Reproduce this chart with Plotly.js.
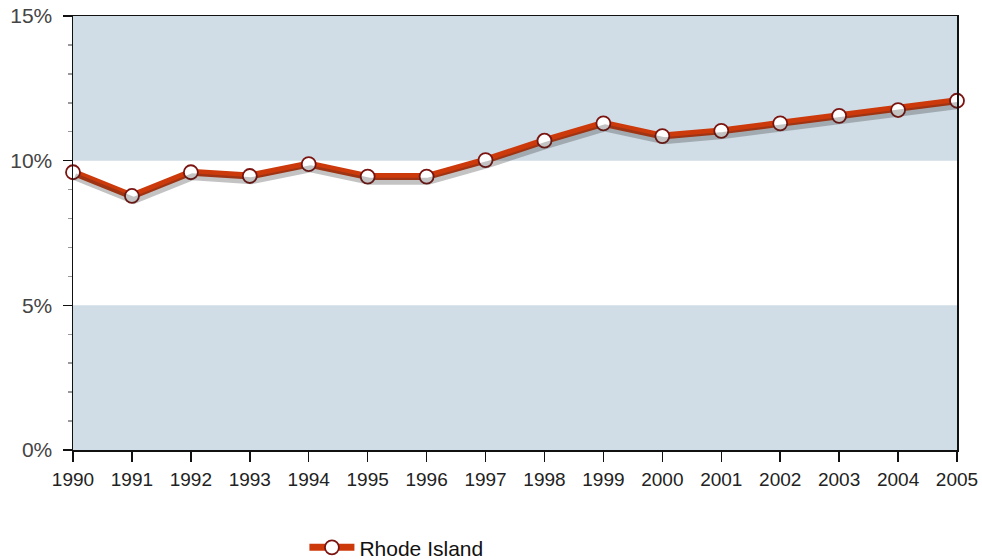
<!DOCTYPE html>
<html>
<head>
<meta charset="utf-8">
<script src="https://cdn.plot.ly/plotly-3.0.1.min.js"></script>
<style>html,body{margin:0;padding:0;background:#fff;}#chart{width:982px;height:560px;}</style>
</head>
<body>
<div id="chart"></div>
<script>
const years = [1990,1991,1992,1993,1994,1995,1996,1997,1998,1999,2000,2001,2002,2003,2004,2005];
const rhodeIsland = [9.60,8.78,9.60,9.47,9.88,9.45,9.45,10.02,10.69,11.29,10.85,11.03,11.29,11.55,11.75,12.07];
const seriesName = 'Rhode Island';
const bandRanges = [[0,5],[10,15]];
const yTicks = [0,5,10,15];
const yTickLabels = ['0%','5%','10%','15%'];

const yRange = [0,15];
const shadowShift = 0.16;

const shadow = {
  x: years, y: rhodeIsland, type: 'scatter', mode: 'lines', xaxis: 'x2', yaxis: 'y2',
  line: {color: 'rgba(40,40,40,0.28)', width: 7},
  hoverinfo: 'skip', showlegend: false, cliponaxis: false
};
const main = {
  x: years, y: rhodeIsland, type: 'scatter', mode: 'lines+markers', name: seriesName,
  line: {color: '#cc3a0c', width: 7},
  marker: {size: 14, color: '#ffffff', line: {color: '#7a1410', width: 1.8}},
  cliponaxis: false
};

const shapes = bandRanges.map(b => ({
  type: 'rect', xref: 'paper', yref: 'y', x0: 0, x1: 1, y0: b[0], y1: b[1],
  fillcolor: '#d1dde6', line: {width: 0}, layer: 'below'
}));

const layout = {
  width: 982, height: 560,
  margin: {l: 73, r: 25, t: 16, b: 110},
  paper_bgcolor: '#ffffff', plot_bgcolor: '#ffffff',
  font: {family: 'Liberation Sans, Arial, sans-serif', color: '#222', size: 14},
  showlegend: true,
  legend: {orientation: 'h', xref: 'container', yref: 'container',
           x: 0.31, xanchor: 'left', y: 0.022, yanchor: 'middle',
           itemwidth: 45,
           font: {size: 21, color: '#111'}},
  xaxis: {
    range: [years[0], years[years.length-1]], tickmode: 'array', tickvals: years,
    ticktext: years.map(String), showgrid: false, zeroline: false,
    showline: true, linecolor: '#111', linewidth: 1.5, mirror: true,
    ticks: 'outside', ticklen: 10, tickcolor: '#111', tickwidth: 1.5,
    ticklabelstandoff: 2,
    tickfont: {size: 19, color: '#222'}
  },
  xaxis2: {
    overlaying: 'x', range: [years[0] - 0.03, years[years.length-1] - 0.03],
    visible: false, showgrid: false, zeroline: false
  },
  yaxis: {
    range: yRange, tickmode: 'array', tickvals: yTicks, ticktext: yTickLabels,
    showgrid: false, zeroline: false,
    showline: true, linecolor: '#111', linewidth: 1.5, mirror: true,
    ticks: 'outside', ticklen: 9, tickcolor: '#111', tickwidth: 1.5,
    ticklabelstandoff: 6,
    minor: {dtick: 1, ticks: 'outside', ticklen: 4, tickcolor: '#999', showgrid: false},
    tickfont: {size: 21, color: '#444'}
  },
  yaxis2: {
    overlaying: 'y', range: [yRange[0] + shadowShift, yRange[1] + shadowShift],
    visible: false, showgrid: false, zeroline: false
  },
  shapes: shapes
};

Plotly.newPlot('chart', [shadow, main], layout, {displayModeBar: false, staticPlot: true});
</script>
</body>
</html>
